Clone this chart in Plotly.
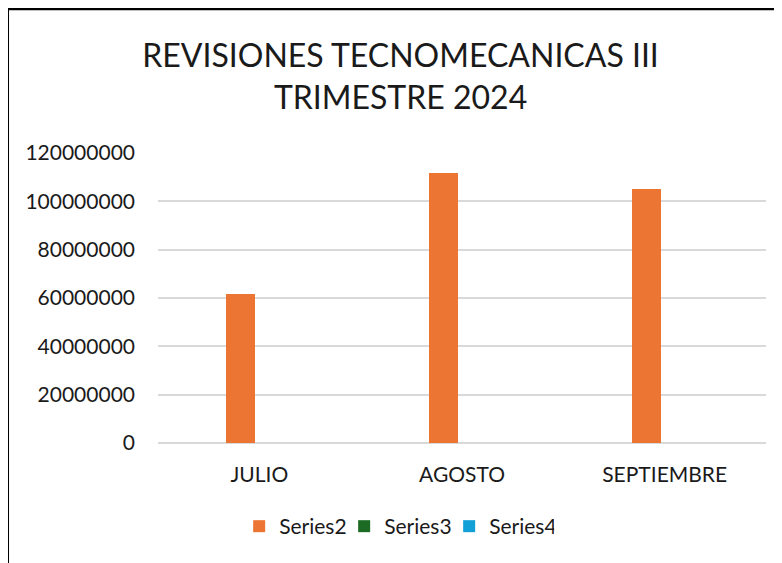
import plotly.graph_objects as go

# data
meses = ["JULIO", "AGOSTO", "SEPTIEMBRE"]
series2 = [61500000, 111700000, 105100000]
series3 = [0, 0, 0]
series4 = [0, 0, 0]

y_ticks = [0, 20000000, 40000000, 60000000, 80000000, 100000000, 120000000]

# excel-like colors
COLORS = {
    "Series2": "#EC7533",
    "Series3": "#1B6B24",
    "Series4": "#12A0D7",
}

FONT = "Lato, 'Open Sans', sans-serif"
BAR_W = 0.143
BAR_OFF = -0.1625

fig = go.Figure()

for i, (name, vals) in enumerate([("Series2", series2), ("Series3", series3), ("Series4", series4)]):
    fig.add_trace(go.Bar(
        x=meses, y=vals, name=name,
        marker=dict(color=COLORS[name], line=dict(width=0)),
        width=BAR_W, offset=BAR_OFF + i * BAR_W,
    ))

# chart border (left/top visible, rest off-screen)
fig.add_shape(
    type="rect", xref="paper", yref="paper",
    x0=-0.2475, x1=1.3, y0=-0.6, y1=1.497,
    line=dict(color="black", width=3), fillcolor="rgba(0,0,0,0)", layer="above"
)

fig.update_layout(
    width=782, height=563,
    margin=dict(l=150, r=24, t=145, b=128),
    paper_bgcolor="white", plot_bgcolor="white",
    font=dict(family=FONT, color="#1a1a1a", size=21),
    title=dict(
        text="REVISIONES TECNOMECANICAS III<br>TRIMESTRE 2024",
        font=dict(family=FONT, size=32, color="#1a1a1a"),
        x=0.502, xanchor="center", xref="container",
        y=0.895, yanchor="middle", yref="container",
    ),
    barmode="overlay",
    bargap=0,
    xaxis=dict(
        showgrid=False, showline=False, ticks="",
        ticklabelstandoff=17,
        tickfont=dict(size=21),
    ),
    yaxis=dict(
        range=[0, 120000000], tickvals=y_ticks, tickformat="d",
        showgrid=True, gridcolor="#D9D9D9", gridwidth=1.5,
        zeroline=True, zerolinecolor="#D9D9D9", zerolinewidth=1.5,
        showline=False, ticks="",
        ticklabelstandoff=22,
        tickfont=dict(size=21),
    ),
    legend=dict(
        orientation="h", xref="container", yref="container",
        x=0.497, xanchor="center", y=0.079, yanchor="middle",
        font=dict(size=21), itemwidth=30, traceorder="normal",
        entrywidth=60, entrywidthmode="pixels",
    ),
)

fig.write_html("out.html")
